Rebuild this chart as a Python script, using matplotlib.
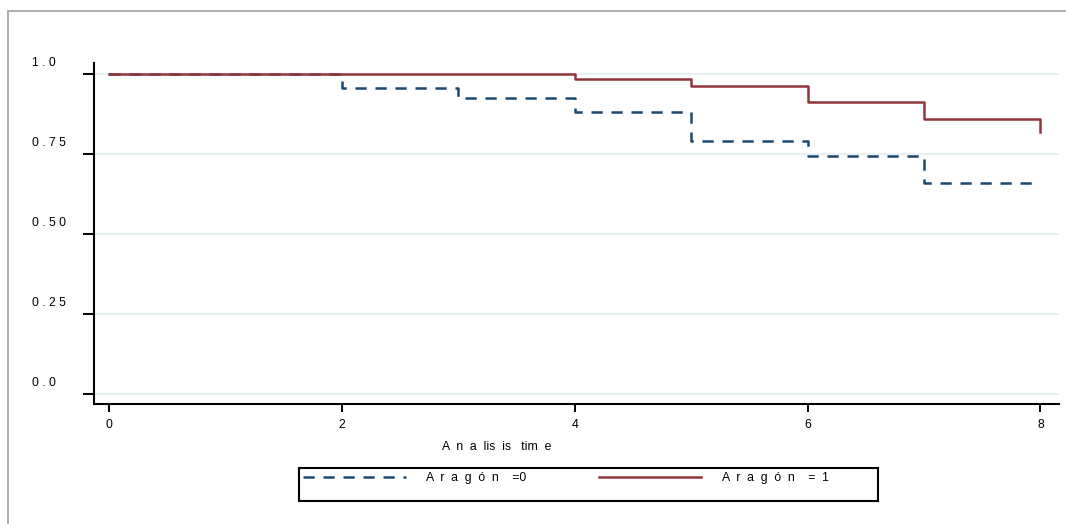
import numpy as np
import matplotlib
matplotlib.use("Agg")
import matplotlib.pyplot as plt
from matplotlib.patches import Rectangle

plt.rcParams['font.family'] = ['Liberation Sans', 'DejaVu Sans']
plt.rcParams['font.size'] = 8.8

# datos Kaplan-Meier
t0 = [0, 2, 3, 4, 5, 6, 7, 8]
s0 = [1.0, 0.956, 0.923, 0.881, 0.790, 0.744, 0.658, 0.658]
t1 = [0, 4, 5, 6, 7, 8]
s1 = [1.0, 0.983, 0.962, 0.912, 0.858, 0.819]

yticks = [0.0, 0.25, 0.50, 0.75, 1.0]
ylabels = ["0 . 0", "0 . 2 5", "0 . 5 0", "0 . 7 5", "1 . 0"]
xticks = [0, 2, 4, 6, 8]
lab0 = "A  r  a  g  ó  n    =0"
lab1 = "A  r  a  g  ó  n    =  1"

navy = '#1a476f'
maroon = '#90353b'

W, H = 1066, 524
fig = plt.figure(figsize=(W/100, H/100), dpi=100)

# marco gris del grafico
fig.add_artist(Rectangle((8/W, -0.1), 1.2, 1.1 - 11.5/H, transform=fig.transFigure,
                         fill=False, edgecolor='#a0a0a0', lw=1.2, clip_on=False))

ax = fig.add_axes([94/W, (H-404)/H, 965/W, 341/H])
ax.set_xlim(-0.131, 8.16)
ax.set_ylim(-0.031, 1.033)

ax.set_yticks(yticks)
ax.yaxis.grid(True, color='#eaf2f3', lw=1.6)
ax.set_axisbelow(True)

l0, = ax.step(t0, s0, where='post', color=navy, lw=1.8, ls=(0, (4.5, 3.5)))
l1, = ax.step(t1, s1, where='post', color=maroon, lw=1.8)

for s in ['top', 'right']:
    ax.spines[s].set_visible(False)
for s in ['left', 'bottom']:
    ax.spines[s].set_linewidth(1.5)

ax.set_xticks(xticks)
ax.set_xticklabels([str(x) for x in xticks])
ax.tick_params(axis='x', length=5.8, width=1.4, pad=5)
ax.tick_params(axis='y', length=7.9, width=1.4, labelleft=False)

for v, lb in zip(yticks, ylabels):
    ax.annotate(lb, xy=(0, v), xycoords=('axes fraction', 'data'),
                xytext=(-62, 11), textcoords='offset pixels',
                ha='left', va='center')

ax.set_xlabel("A  n  a  lis  is   tim  e", va='center')
ax.xaxis.set_label_coords((497-94)/965, -(447-404)/341)

# leyenda
lax = fig.add_axes([299.3/W, (H-501)/H, 578.7/W, 32.7/H])
lax.set_xticks([])
lax.set_yticks([])
for s in lax.spines.values():
    s.set_linewidth(1.5)
lax.legend([l0, l1], [lab0, lab1], loc='upper left', bbox_to_anchor=(0, 1),
           ncol=2, frameon=False, borderaxespad=0, borderpad=0.3,
           handlelength=8.4, handletextpad=1.7, columnspacing=5.9)

fig.savefig("out.png", dpi=100)
